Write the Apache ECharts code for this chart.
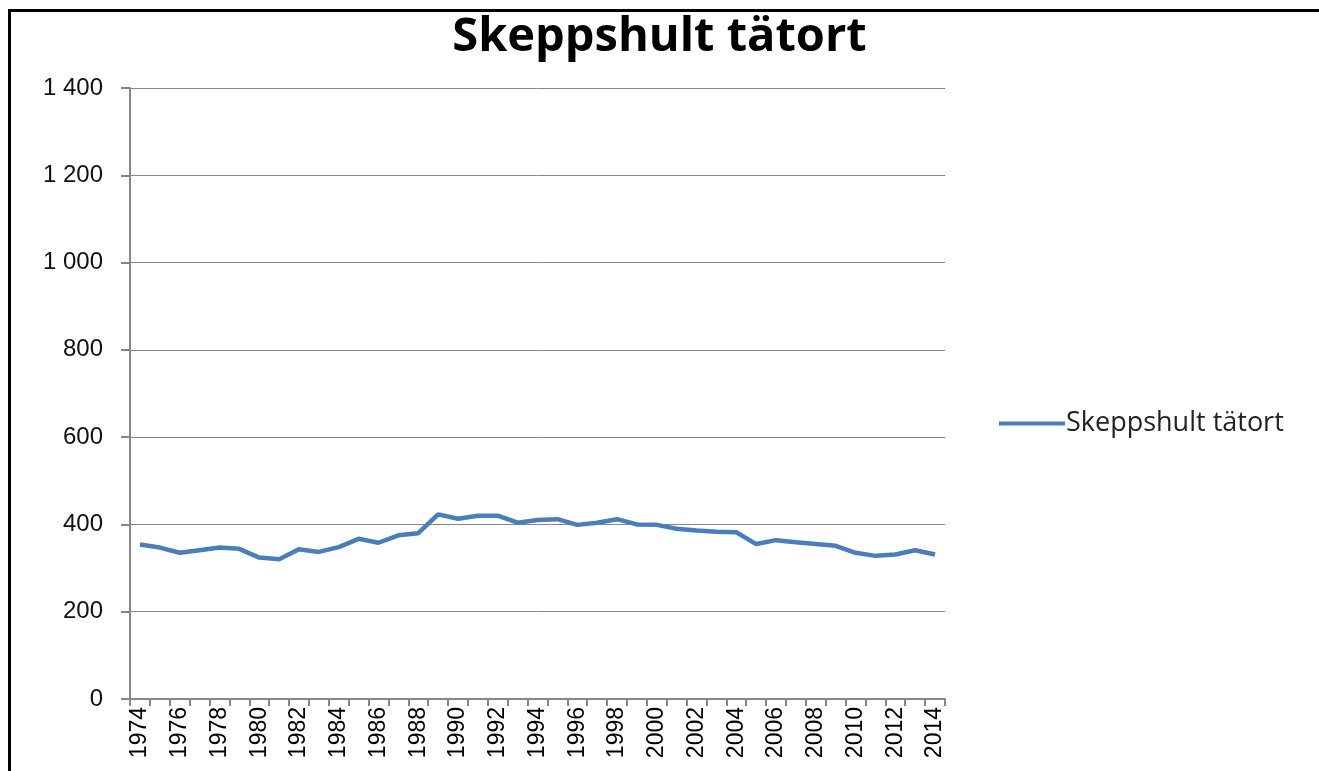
<!DOCTYPE html>
<html>
<head>
<meta charset="utf-8">
<script src="https://cdn.jsdelivr.net/npm/echarts@6/dist/echarts.min.js"></script>
<style>
  html, body { margin: 0; padding: 0; background: #fff; }
  #chart { width: 1319px; height: 771px; }
  .frame {
    position: absolute; left: 8px; top: 9px; right: 0; bottom: 0;
    border-left: 3px solid #000; border-top: 3px solid #000;
    pointer-events: none;
  }
</style>
</head>
<body>
<div id="chart"></div>
<div class="frame"></div>
<script>
// årtal
const years = []
for (let y = 1974; y <= 2014; y++) years.push(String(y))

// invånare
const population = [
  354, 347, 335, 341, 347, 344, 324, 320, 343, 337,
  348, 367, 358, 375, 380, 423, 413, 420, 420, 404,
  410, 412, 399, 404, 412, 400, 399, 390, 386, 383,
  382, 355, 364, 359, 355, 351, 335, 328, 331, 341,
  331
]

const yTicks = [0, 200, 400, 600, 800, 1000, 1200, 1400]

const chart = echarts.init(document.getElementById('chart'))
const option = {
  animation: false,
  title: {
    text: 'Skeppshult tätort',
    left: 'center',
    top: 9,
    textStyle: {
      fontFamily: 'Open Sans',
      fontWeight: 'bold',
      fontSize: 47,
      color: '#000'
    }
  },
  legend: {
    data: ['Skeppshult tätort'],
    orient: 'vertical',
    left: 994,
    top: 405,
    itemWidth: 66,
    itemHeight: 4,
    itemGap: 6,
    icon: 'rect',
    textStyle: {
      fontFamily: 'Open Sans',
      fontSize: 27,
      padding: [0, 0, 0, -4],
      color: '#222'
    }
  },
  grid: {
    left: 130,
    right: 374,
    top: 88,
    bottom: 72
  },
  xAxis: {
    type: 'category',
    data: years,
    boundaryGap: true,
    axisLine: { lineStyle: { color: '#868686', width: 2 } },
    axisTick: { show: true, length: 7, interval: 0, lineStyle: { color: '#868686', width: 2 } },
    axisLabel: {
      rotate: 90,
      interval: 1,
      margin: 8,
      fontFamily: 'Liberation Sans',
      fontSize: 23,
      color: '#000'
    }
  },
  yAxis: {
    type: 'value',
    min: yTicks[0],
    max: yTicks[yTicks.length - 1],
    interval: 200,
    axisLine: { show: true, lineStyle: { color: '#868686', width: 2 } },
    axisTick: { show: true, length: 9, lineStyle: { color: '#868686', width: 2 } },
    splitLine: { lineStyle: { color: '#868686', width: 1 } },
    axisLabel: {
      margin: 27,
      fontFamily: 'Liberation Sans',
      fontSize: 24,
      color: '#111',
      formatter: function (v) {
        return v >= 1000 ? Math.floor(v / 1000) + ' ' + String(v % 1000).padStart(3, '0') : String(v)
      }
    }
  },
  series: [
    {
      name: 'Skeppshult tätort',
      type: 'line',
      data: population,
      showSymbol: false,
      symbol: 'none',
      color: '#4a7ebb',
      lineStyle: { color: '#4a7ebb', width: 4.5 }
    }
  ]
}
chart.setOption(option)
window.addEventListener('resize', () => {
  chart.resize()
})
</script>
</body>
</html>
